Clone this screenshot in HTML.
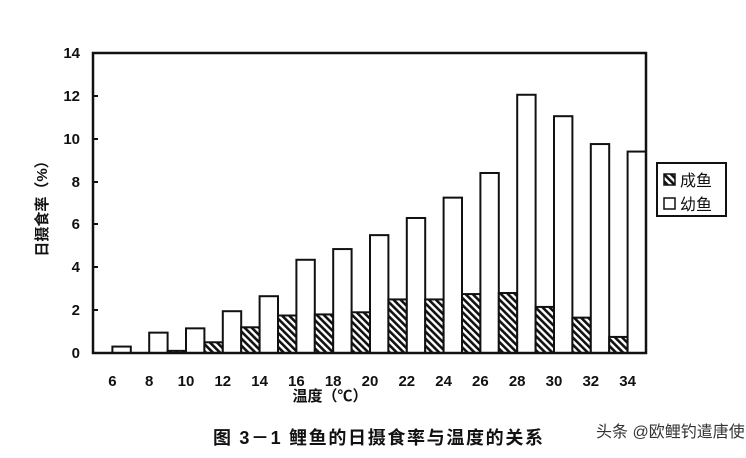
<!DOCTYPE html>
<html><head><meta charset="utf-8"><style>
body{margin:0;background:#fff;width:746px;height:453px;overflow:hidden}
text{font-family:"Liberation Sans","Noto Sans CJK SC",sans-serif;fill:#111}
</style></head><body>
<svg width="746" height="453" viewBox="0 0 746 453">
<defs><pattern id="h" width="5" height="5" patternUnits="userSpaceOnUse" patternTransform="rotate(-45)"><rect width="5" height="5" fill="#fff"/><rect width="2.6" height="5" fill="#111"/></pattern></defs>
<g id="bars" stroke="#111" stroke-width="2"></g>
<rect x="93" y="53" width="553" height="300" fill="none" stroke="#111" stroke-width="2.5"/>
<g stroke="#111" stroke-width="2">
<line x1="93" y1="96" x2="98" y2="96"/><line x1="93" y1="139" x2="98" y2="139"/><line x1="93" y1="182" x2="98" y2="182"/><line x1="93" y1="224" x2="98" y2="224"/><line x1="93" y1="267" x2="98" y2="267"/><line x1="93" y1="310" x2="98" y2="310"/>
</g>
<g font-size="15" text-anchor="end" font-weight="bold">
<text x="80" y="358">0</text><text x="80" y="315">2</text><text x="80" y="272">4</text><text x="80" y="229">6</text><text x="80" y="187">8</text><text x="80" y="144">10</text><text x="80" y="101">12</text><text x="80" y="58">14</text>
</g>
<g id="xl" font-size="15" text-anchor="middle" font-weight="bold"></g>
<text x="330" y="401" font-size="15" font-weight="bold" text-anchor="middle">温度（℃）</text>
<text transform="translate(47,205) rotate(-90)" font-size="15" font-weight="bold" text-anchor="middle">日摄食率（%）</text>
<rect x="657" y="163" width="69" height="53" fill="#fff" stroke="#111" stroke-width="2"/>
<rect x="664" y="174" width="11" height="11" fill="url(#h)" stroke="#111" stroke-width="1.5"/>
<rect x="664" y="198" width="11" height="11" fill="#fff" stroke="#111" stroke-width="1.5"/>
<text x="680" y="186" font-size="16">成鱼</text>
<text x="680" y="210" font-size="16">幼鱼</text>
<text x="213" y="444" font-size="18" font-weight="bold" textLength="330">图 3－1  鲤鱼的日摄食率与温度的关系</text>
<text x="596" y="437" font-size="16" style="fill:#333">头条 @欧鲤钓遣唐使</text>
</svg>
<script>
var J=[0.3,0.95,1.15,1.95,2.65,4.35,4.85,5.5,6.3,7.25,8.4,12.05,11.05,9.75,9.4];
var A=[0,0,0.1,0.5,1.2,1.75,1.8,1.9,2.5,2.5,2.75,2.8,2.15,1.65,0.75];
var g=document.getElementById('bars'),xl=document.getElementById('xl'),s='',t='';
for(var i=0;i<15;i++){var x=94+i*36.8,k=21.43;
if(A[i]>0)s+='<rect x="'+x+'" y="'+(353-A[i]*k)+'" width="18.4" height="'+A[i]*k+'" fill="url(#h)"/>';
s+='<rect x="'+(x+18.4)+'" y="'+(353-J[i]*k)+'" width="18.4" height="'+J[i]*k+'" fill="#fff"/>';
t+='<text x="'+(x+18.4)+'" y="386">'+(6+2*i)+'</text>';}
g.innerHTML=s;xl.innerHTML=t;
</script>
</body></html>
